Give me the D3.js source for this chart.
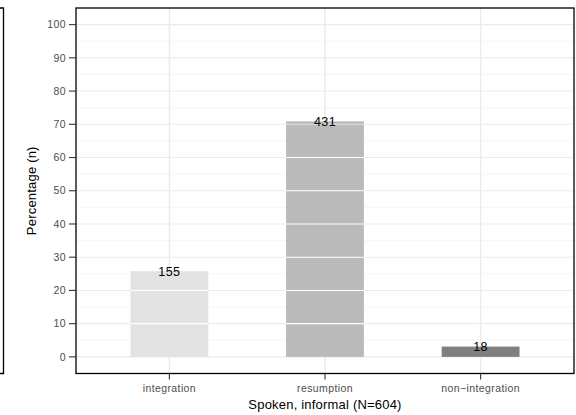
<!DOCTYPE html>
<html><head><meta charset="utf-8">
<script src="https://cdn.jsdelivr.net/npm/d3@7"></script>
<style>body{margin:0;background:#fff;}svg{display:block;font-family:"Liberation Sans",Arial,Helvetica,sans-serif;}</style>
</head><body>
<svg id="c" width="576" height="415"></svg>
<script>
const categories = ["integration", "resumption", "non\u2212integration"];
const percentages = [25.8, 70.9, 3.1];
const counts = [155, 431, 18];
const fills = ["#e3e3e3", "#bababa", "#7f7f7f"];
const yTicks = [0, 10, 20, 30, 40, 50, 60, 70, 80, 90, 100];
const yMinor = [5, 15, 25, 35, 45, 55, 65, 75, 85, 95];
const xTitle = "Spoken, informal (N=604)";
const yTitle = "Percentage (n)";

const svg = d3.select("#c");
const L = 76, R = 574, T = 8, B = 373.5;
const x = d3.scaleLinear().domain([0.4, categories.length + 0.6]).range([L, R]);
const y = d3.scaleLinear().domain([-5, 105]).range([B, T]);
const bw = x(1.25) - x(0.75);

// partial left panel
svg.append("path").attr("d", `M0,${T}H3.5V${B}H0`).attr("fill","none").attr("stroke","#000").attr("stroke-width",1.3);

const g = svg.append("g");
g.append("rect").attr("x",L).attr("y",T).attr("width",R-L).attr("height",B-T).attr("fill","#fff");
// minor grid
g.selectAll(".mn").data(yMinor).join("line")
  .attr("x1",L).attr("x2",R).attr("y1",d=>y(d)).attr("y2",d=>y(d))
  .attr("stroke","#f4f4f4").attr("stroke-width",0.8);
// major grid
g.selectAll(".mj").data(yTicks).join("line")
  .attr("x1",L).attr("x2",R).attr("y1",d=>y(d)).attr("y2",d=>y(d))
  .attr("stroke","#ebebeb").attr("stroke-width",1.1);
g.selectAll(".vx").data(categories).join("line")
  .attr("x1",(d,i)=>x(i+1)).attr("x2",(d,i)=>x(i+1)).attr("y1",T).attr("y2",B)
  .attr("stroke","#ebebeb").attr("stroke-width",1.5);

// bars
g.selectAll(".bar").data(percentages).join("rect")
  .attr("x",(d,i)=>x(i+1)-bw/2).attr("width",bw)
  .attr("y",d=>y(d)).attr("height",d=>y(0)-y(d))
  .attr("fill",(d,i)=>fills[i]);
// white lines inside bars at major breaks
percentages.forEach((v,i)=>{
  yTicks.filter(t=>t>0 && t<v).forEach(t=>{
    g.append("line").attr("x1",x(i+1)-bw/2).attr("x2",x(i+1)+bw/2)
      .attr("y1",y(t)).attr("y2",y(t))
      .attr("stroke", (v-t)<2 ? "#e2e2e2" : "#fff").attr("stroke-width",1.1);
  });
});
// labels
g.selectAll(".lab").data(percentages).join("text")
  .attr("x",(d,i)=>x(i+1)).attr("y",d=>y(d)).attr("dy","0.36em")
  .attr("text-anchor","middle").attr("font-size",12.5).attr("letter-spacing","0.4px").attr("fill","#000")
  .text((d,i)=>counts[i]);

// border
svg.append("rect").attr("x",L).attr("y",T).attr("width",R-L).attr("height",B-T)
  .attr("fill","none").attr("stroke","#000").attr("stroke-width",1.3);

// y axis
const ya = svg.append("g");
yTicks.forEach(t=>{
  ya.append("line").attr("x1",L-7).attr("x2",L).attr("y1",y(t)).attr("y2",y(t)).attr("stroke","#333").attr("stroke-width",1.1);
  ya.append("text").attr("x",L-10).attr("y",y(t)).attr("dy","0.35em").attr("text-anchor","end")
    .attr("font-size",10.5).attr("letter-spacing","0.4px").attr("fill","#4d4d4d").text(t);
});
// x axis
categories.forEach((c,i)=>{
  svg.append("line").attr("x1",x(i+1)).attr("x2",x(i+1)).attr("y1",B).attr("y2",B+6).attr("stroke","#333").attr("stroke-width",1.1);
  svg.append("text").attr("x",x(i+1)).attr("y",B+18).attr("text-anchor","middle")
    .attr("font-size",10.5).attr("letter-spacing","0.4px").attr("fill","#4d4d4d").text(c);
});
svg.append("text").attr("x",(L+R)/2).attr("y",409).attr("text-anchor","middle").attr("font-size",13).attr("letter-spacing","0.2px").attr("fill","#000").text(xTitle);
svg.append("text").attr("transform",`translate(36,${(T+B)/2}) rotate(-90)`).attr("text-anchor","middle").attr("font-size",13).attr("letter-spacing","0.2px").attr("fill","#000").text(yTitle);
</script>
</body></html>
